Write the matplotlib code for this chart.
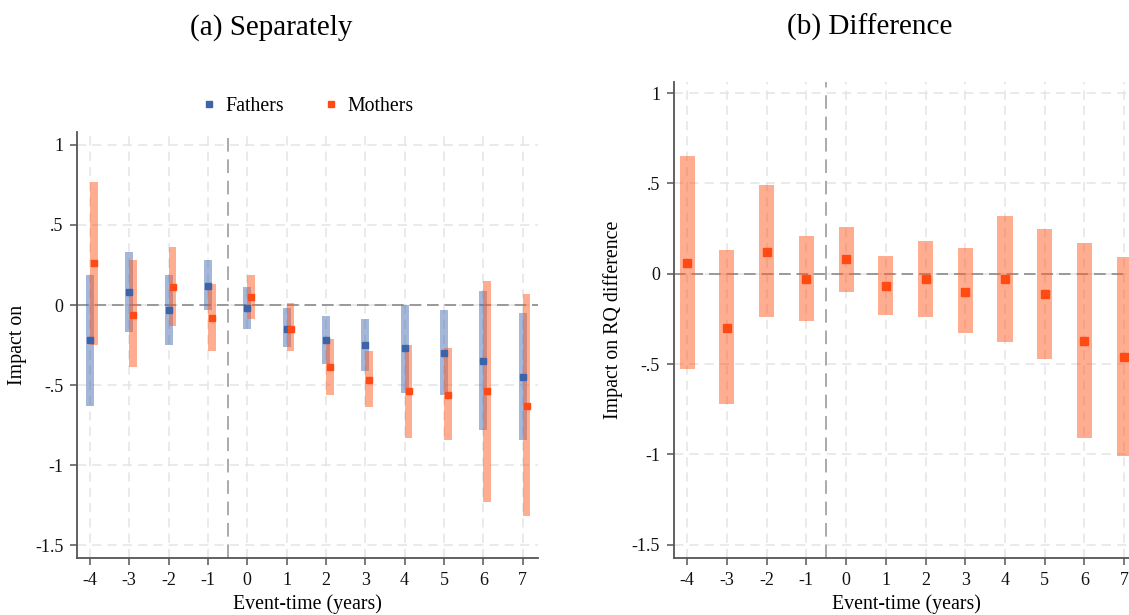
import matplotlib
matplotlib.use('Agg')
import matplotlib.pyplot as plt
import numpy as np

# event-study estimates
event_time = [-4, -3, -2, -1, 0, 1, 2, 3, 4, 5, 6, 7]

fathers_est = [-0.22, 0.08, -0.03, 0.12, -0.02, -0.15, -0.22, -0.25, -0.27, -0.30, -0.35, -0.45]
fathers_lo = [-0.63, -0.17, -0.25, -0.03, -0.15, -0.26, -0.37, -0.41, -0.55, -0.56, -0.78, -0.84]
fathers_hi = [0.19, 0.33, 0.19, 0.28, 0.11, -0.02, -0.07, -0.09, 0.00, -0.03, 0.09, -0.05]

mothers_est = [0.26, -0.06, 0.11, -0.08, 0.05, -0.15, -0.39, -0.47, -0.54, -0.56, -0.54, -0.63]
mothers_lo = [-0.25, -0.39, -0.13, -0.29, -0.09, -0.29, -0.56, -0.64, -0.83, -0.84, -1.23, -1.32]
mothers_hi = [0.77, 0.28, 0.36, 0.13, 0.19, 0.01, -0.21, -0.29, -0.25, -0.27, 0.15, 0.07]

diff_est = [0.06, -0.30, 0.12, -0.03, 0.08, -0.07, -0.03, -0.10, -0.03, -0.11, -0.37, -0.46]
diff_lo = [-0.53, -0.72, -0.24, -0.26, -0.10, -0.23, -0.24, -0.33, -0.38, -0.47, -0.91, -1.01]
diff_hi = [0.65, 0.13, 0.49, 0.21, 0.26, 0.10, 0.18, 0.14, 0.32, 0.25, 0.17, 0.09]

yticks = [1, 0.5, 0, -0.5, -1, -1.5]
ytick_labels = ['1', '.5', '0', '-.5', '-1', '-1.5']

BLUE = '#3d63a8'
ORANGE = '#ff4a14'
BAR_BLUE = '#4a70b2'
BAR_ORANGE = '#ff5c24'

plt.rcParams['font.family'] = ['Liberation Serif', 'DejaVu Serif']


def style_axes(ax, ylabel, xlim, ylim):
    ''' Stata-like look: dashed light grid, left/bottom spines '''
    ax.set_xlim(*xlim)
    ax.set_ylim(*ylim)
    ax.set_xticks(event_time)
    ax.set_xticklabels([str(t) for t in event_time], fontsize=13)
    ax.set_yticks(yticks)
    ax.set_yticklabels(ytick_labels, fontsize=13)
    ax.grid(True, color='#e4e4e4', linestyle=(0, (6, 4)), linewidth=1.1)
    ax.set_axisbelow(True)
    for side in ['top', 'right']:
        ax.spines[side].set_visible(False)
    for side in ['left', 'bottom']:
        ax.spines[side].set_color('#555555')
        ax.spines[side].set_linewidth(1.3)
    ax.tick_params(direction='out', length=5, width=1.1, color='#555555',
                   labelcolor='#111111', pad=5)
    ax.axhline(0, color='#999999', linestyle=(0, (6, 3)), linewidth=1.4, zorder=1)
    ax.axvline(-0.5, color='#aaaaaa', linestyle=(0, (7, 4)), linewidth=1.4, zorder=1)
    ax.set_xlabel('Event-time (years)', fontsize=14.3, labelpad=4)
    ax.set_ylabel(ylabel, fontsize=14.3, labelpad=6)


fig = plt.figure(figsize=(11.29, 6.15), dpi=100)

# (a) separately
ax1 = fig.add_axes([0.0685, 0.0927, 0.408, 0.6933])
x = np.array(event_time)
ax1.bar(x, np.array(fathers_hi) - np.array(fathers_lo), bottom=fathers_lo,
        width=0.2, color=BAR_BLUE, alpha=0.5, linewidth=0, zorder=2)
ax1.bar(x + 0.1, np.array(mothers_hi) - np.array(mothers_lo), bottom=mothers_lo,
        width=0.2, color=BAR_ORANGE, alpha=0.5, linewidth=0, zorder=2)
ax1.plot(x, fathers_est, 's', color=BLUE, ms=5, zorder=3, label='Fathers')
ax1.plot(x + 0.1, mothers_est, 's', color=ORANGE, ms=5, zorder=3, label='Mothers')
style_axes(ax1, 'Impact on', (-4.32, 7.39), (-1.58, 1.083))
ax1.legend(loc='center', bbox_to_anchor=(0.5, 1.06), ncol=2, frameon=False,
           fontsize=14.3, handlelength=0.7, handletextpad=0.5, columnspacing=2.0,
           markerscale=0.9)

# (b) difference
ax2 = fig.add_axes([0.597, 0.0922, 0.403, 0.7750])
ax2.bar(x, np.array(diff_hi) - np.array(diff_lo), bottom=diff_lo,
        width=0.38, color=BAR_ORANGE, alpha=0.5, linewidth=0, zorder=2)
ax2.plot(x, diff_est, 's', color=ORANGE, ms=5.5, zorder=3)
style_axes(ax2, 'Impact on RQ difference', (-4.33, 7.12), (-1.575, 1.063))
ax2.xaxis.set_label_coords(0.5 + (906 - 901) / 455.0, -0.075)

# panel titles
fig.text(0.240, 0.955, '(a) Separately', ha='center', va='center', fontsize=21)
fig.text(0.770, 0.955, '(b) Difference', ha='center', va='center', fontsize=21)

plt.savefig('out.png', dpi=100)
plt.close()
